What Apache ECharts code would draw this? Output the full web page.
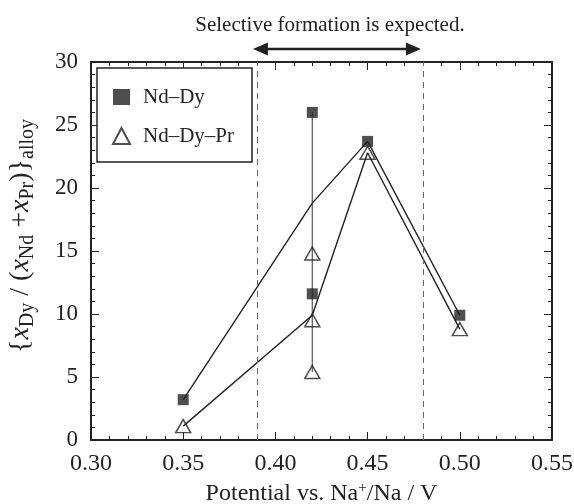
<!DOCTYPE html>
<html>
<head>
<meta charset="utf-8">
<script src="https://cdn.jsdelivr.net/npm/echarts@6/dist/echarts.min.js"></script>
<style>
html,body{margin:0;padding:0;background:#fff;}
#chart{width:574px;height:504px;}
</style>
</head>
<body>
<div id="chart"></div>
<script>
// ---- data ----
const ndDyX = [0.35, 0.42, 0.42, 0.45, 0.50];
const ndDyY = [3.2, 26.0, 11.6, 23.7, 9.9];
const ndDyPrX = [0.35, 0.42, 0.42, 0.42, 0.45, 0.50];
const ndDyPrY = [1.1, 14.8, 9.5, 5.4, 22.8, 8.8];
const trendX = [0.35, 0.42, 0.45, 0.50];
const ndDyTrend = [3.2, 18.8, 23.7, 9.9];
const ndDyPrTrend = [1.1, 9.9, 22.8, 8.8];
const rangeX = 0.42;
const windowBounds = [0.39, 0.48];
const xTickLabels = ['0.30', '0.35', '0.40', '0.45', '0.50', '0.55'];
const yTickLabels = ['0', '5', '10', '15', '20', '25', '30'];
const seriesNames = ['Nd\u2013Dy', 'Nd\u2013Dy\u2013Pr'];
const annotationText = 'Selective formation is expected.';

const FONT = '"Liberation Serif", "DejaVu Serif", serif';
const INK = '#222';

const pts = (xs, ys) => xs.map((x, i) => [x, ys[i]]);
const atRange = [];
ndDyX.forEach((x, i) => { if (x === rangeX) atRange.push(ndDyY[i]); });
ndDyPrX.forEach((x, i) => { if (x === rangeX) atRange.push(ndDyPrY[i]); });
const rangeData = [[rangeX, Math.min(...atRange)], [rangeX, Math.max(...atRange)]];

const xMin = parseFloat(xTickLabels[0]), xMax = parseFloat(xTickLabels[xTickLabels.length - 1]);
const xStep = 0.05;
const yMin = +yTickLabels[0], yMax = +yTickLabels[yTickLabels.length - 1], yStep = 5;

const baseX = {
  type: 'value', min: xMin, max: xMax, interval: xStep,
  axisLine: { show: true, onZero: false, lineStyle: { color: INK, width: 2 } },
  axisTick: { show: true, inside: true, length: 8, lineStyle: { color: INK, width: 1 } },
  minorTick: { show: true, splitNumber: 5, length: 4, lineStyle: { color: INK, width: 1 } },
  splitLine: { show: false }
};
const baseY = {
  type: 'value', min: yMin, max: yMax, interval: yStep,
  axisLine: { show: true, onZero: false, lineStyle: { color: INK, width: 2 } },
  axisTick: { show: true, inside: true, length: 8, lineStyle: { color: INK, width: 1 } },
  minorTick: { show: true, splitNumber: 5, length: 4, lineStyle: { color: INK, width: 1 } },
  splitLine: { show: false }
};

const chart = echarts.init(document.getElementById('chart'), null, { renderer: 'canvas' });
const option = {
  animation: false,
  backgroundColor: '#fff',
  textStyle: { fontFamily: FONT, color: INK },
  grid: { left: 91, right: 22, top: 62, bottom: 64, containLabel: false, outerBoundsMode: 'none' },
  xAxis: [
    Object.assign({}, baseX, {
      position: 'bottom',
      axisLabel: { show: true, margin: 12, fontSize: 24, fontFamily: FONT, color: INK,
        formatter: (v) => xTickLabels[Math.round((v - xMin) / xStep)] },
      name: '{t|Potential vs. Na}{sup|+}{t|/Na / V}',
      nameLocation: 'middle', nameGap: 38,
      nameTextStyle: { fontFamily: FONT, color: INK, fontSize: 24, rich: {
        t: { fontSize: 24, fontFamily: FONT, color: INK, lineHeight: 26, verticalAlign: 'middle' },
        sup: { fontSize: 15, fontFamily: FONT, color: INK, lineHeight: 26, verticalAlign: 'top' }
      } }
    }),
    Object.assign({}, baseX, { position: 'top', axisLabel: { show: false } })
  ],
  yAxis: [
    Object.assign({}, baseY, {
      position: 'left',
      axisLabel: { show: true, margin: 13, fontSize: 23, fontFamily: FONT, color: INK,
        formatter: (v) => yTickLabels[Math.round((v - yMin) / yStep)] },
      name: '{t|\u007B}{i|x}{s|Dy}{t| / (}{i|x}{s|Nd}{t| +}{i|x}{s|Pr}{t|)\u007D}{s|alloy}',
      nameLocation: 'middle', nameGap: 53, nameRotate: 90,
      nameTextStyle: { fontFamily: FONT, color: INK, fontSize: 28, padding: [0, 0, 0, 30], rich: {
        t: { fontSize: 28, fontFamily: FONT, color: INK, lineHeight: 34, verticalAlign: 'middle' },
        i: { fontSize: 28, fontFamily: FONT, fontStyle: 'italic', color: INK, lineHeight: 34, verticalAlign: 'middle' },
        s: { fontSize: 20, fontFamily: FONT, color: INK, lineHeight: 19, verticalAlign: 'bottom' }
      } }
    }),
    Object.assign({}, baseY, { position: 'right', axisLabel: { show: false } })
  ],
  legend: {
    show: true, orient: 'vertical', left: 97, top: 68,
    padding: [17, 18, 14, 15], itemGap: 15,
    itemWidth: 17, itemHeight: 16,
    borderColor: INK, borderWidth: 1.5, borderRadius: 0,
    backgroundColor: '#fff',
    textStyle: { fontSize: 21, fontFamily: FONT, color: INK, lineHeight: 24, padding: [0, 0, 0, 8] },
    data: [
      { name: seriesNames[0], icon: 'rect' },
      { name: seriesNames[1], icon: 'triangle' }
    ],
    selectedMode: false
  },
  series: [
    {
      name: 'boundaries', type: 'line', data: [], silent: true,
      markLine: {
        silent: true, symbol: ['none', 'none'], label: { show: false },
        lineStyle: { color: '#666', type: [6, 5], width: 1 },
        data: windowBounds.map(v => ({ xAxis: v }))
      }
    },
    {
      name: 'range', type: 'line', data: rangeData, showSymbol: false, silent: true,
      lineStyle: { color: '#555', width: 1.2 }, z: 2
    },
    {
      name: 'trend1', type: 'line', data: pts(trendX, ndDyTrend), showSymbol: false, silent: true,
      lineStyle: { color: INK, width: 1.4 }, z: 2
    },
    {
      name: 'trend2', type: 'line', data: pts(trendX, ndDyPrTrend), showSymbol: false, silent: true,
      lineStyle: { color: INK, width: 1.4 }, z: 2
    },
    {
      name: seriesNames[1], type: 'scatter', data: pts(ndDyPrX, ndDyPrY),
      symbol: 'triangle', symbolSize: [15, 13],
      itemStyle: { color: 'rgba(255,255,255,0)', borderColor: INK, borderWidth: 1.5 }, z: 3
    },
    {
      name: seriesNames[0], type: 'scatter', data: pts(ndDyX, ndDyY),
      symbol: 'rect', symbolSize: 11,
      itemStyle: { color: INK }, z: 4
    }
  ]
};
chart.setOption(option);

// annotation above the plot, positioned from the x scale
const xl = chart.convertToPixel({ xAxisIndex: 0 }, windowBounds[0]);
const xr = chart.convertToPixel({ xAxisIndex: 0 }, windowBounds[1]);
const ay = 49, head = 15, hh = 6.5;
chart.setOption({
  graphic: [
    { type: 'line', shape: { x1: xl + head - 6, y1: ay, x2: xr - head + 2, y2: ay },
      style: { stroke: INK, lineWidth: 2.5 }, silent: true },
    { type: 'polygon', shape: { points: [[xl - 4, ay], [xl - 4 + head, ay - hh], [xl - 4 + head, ay + hh]] },
      style: { fill: INK }, silent: true },
    { type: 'polygon', shape: { points: [[xr - 2, ay], [xr - 2 - head, ay - hh], [xr - 2 - head, ay + hh]] },
      style: { fill: INK }, silent: true },
    { type: 'text', x: (xl + xr) / 2 - 10, y: 25,
      style: { text: annotationText, font: '21px ' + FONT, fill: INK, textAlign: 'center', textVerticalAlign: 'middle' },
      silent: true }
  ]
});
</script>
</body>
</html>
